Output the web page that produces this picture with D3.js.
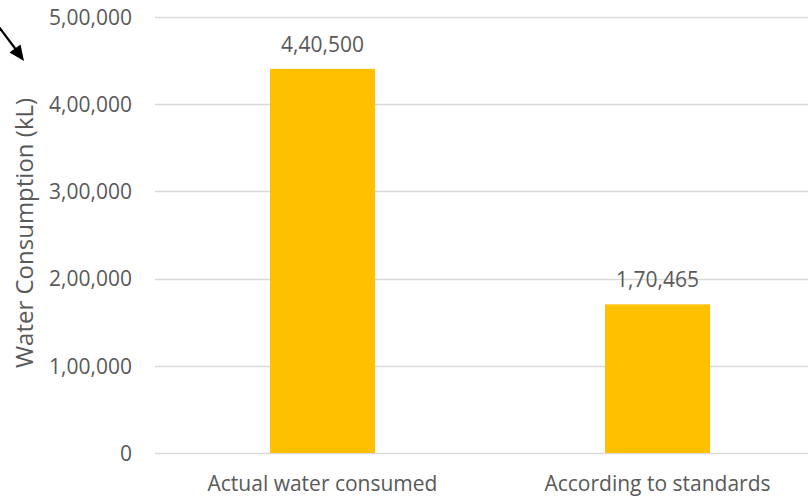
<!DOCTYPE html>
<html>
<head>
<meta charset="utf-8">
<script src="https://cdn.jsdelivr.net/npm/d3@7"></script>
<style>
  html, body { margin: 0; padding: 0; background: #fff; }
  svg { display: block; }
  text { font-family: "Open Sans", sans-serif; fill: #595959; }
</style>
</head>
<body>
<svg id="chart" width="808" height="496"></svg>
<script>
const categories = ["Actual water consumed", "According to standards"];
const values = [440500, 170465];
const valueLabels = ["4,40,500", "1,70,465"];
const tickValues = [0, 100000, 200000, 300000, 400000, 500000];
const tickLabels = ["0", "1,00,000", "2,00,000", "3,00,000", "4,00,000", "5,00,000"];
const yTitle = "Water Consumption (kL)";

const svg = d3.select("#chart");
const plotLeft = 155, plotRight = 825, plotTop = 17, plotBottom = 453;

const x = d3.scaleBand()
  .domain(categories)
  .range([plotLeft, plotRight])
  .paddingInner(0.6866)
  .paddingOuter(0.3433);

const y = d3.scaleLinear()
  .domain([0, 500000])
  .range([plotBottom, plotTop]);

// gridlines
svg.append("g")
  .selectAll("line")
  .data(tickValues)
  .join("line")
  .attr("x1", plotLeft)
  .attr("x2", plotRight)
  .attr("y1", d => Math.round(y(d)) + 0.5)
  .attr("y2", d => Math.round(y(d)) + 0.5)
  .attr("stroke", "#d9d9d9")
  .attr("stroke-width", 1.3);

// y axis labels
const yAxis = d3.axisLeft(y)
  .tickValues(tickValues)
  .tickFormat((d, i) => tickLabels[i])
  .tickSize(0)
  .tickPadding(23);
const gy = svg.append("g")
  .attr("transform", `translate(${plotLeft},0)`)
  .call(yAxis);
gy.select(".domain").remove();
gy.selectAll("text")
  .attr("font-family", "Open Sans")
  .attr("font-size", 21)
  .attr("fill", "#595959")
  .attr("dy", "0.35em");

// bars
svg.append("g")
  .selectAll("rect")
  .data(values)
  .join("rect")
  .attr("x", (d, i) => x(categories[i]))
  .attr("width", x.bandwidth())
  .attr("y", d => y(d))
  .attr("height", d => y(0) - y(d))
  .attr("fill", "#ffc000");

// value labels
svg.append("g")
  .selectAll("text")
  .data(values)
  .join("text")
  .attr("x", (d, i) => x(categories[i]) + x.bandwidth() / 2)
  .attr("y", d => y(d) - 17)
  .attr("text-anchor", "middle")
  .attr("font-size", 21)
  .text((d, i) => valueLabels[i]);

// x axis labels
const xAxis = d3.axisBottom(x).tickSize(0).tickPadding(0);
const gx = svg.append("g")
  .attr("transform", `translate(0,${plotBottom})`)
  .call(xAxis);
gx.select(".domain").remove();
gx.selectAll("text")
  .attr("font-family", "Open Sans")
  .attr("font-size", 21)
  .attr("fill", "#595959")
  .attr("dy", null)
  .attr("y", 38);

// y title
svg.append("text")
  .attr("transform", "translate(33,233) rotate(-90)")
  .attr("text-anchor", "middle")
  .attr("font-size", 24)
  .text(yTitle);

// arrow (annotation)
svg.append("line")
  .attr("x1", -1).attr("y1", 27)
  .attr("x2", 17).attr("y2", 51)
  .attr("stroke", "#000")
  .attr("stroke-width", 2.2);
svg.append("path")
  .attr("d", "M24,61 L9.5,52.5 L20.5,44.5 Z")
  .attr("fill", "#000");
</script>
</body>
</html>
